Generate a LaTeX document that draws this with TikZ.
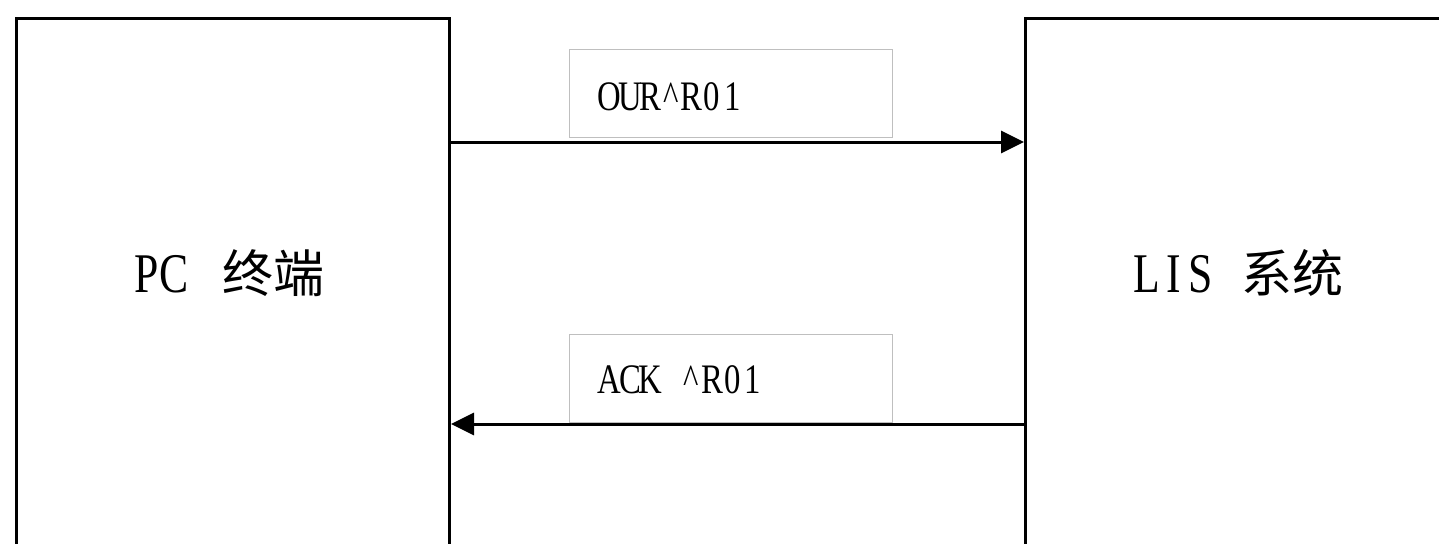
\documentclass[tikz,border=0pt]{standalone}
\usepackage{fontspec}
\setmainfont{Liberation Serif}
\newfontfamily\latfont[FakeStretch=0.78]{Liberation Serif}
\newfontfamily\cjkfont{Noto Sans CJK SC}
\usetikzlibrary{arrows.meta,calc}
% half-width cells, as in the reference's monospaced Latin
\newcommand\cellA[1]{\makebox[13.5pt]{#1}}
\newcommand\cellB[1]{\makebox[10.25pt]{#1}}
\tikzset{
  sysbox/.style={draw=black, line width=1.5pt, minimum width=433*0.5pt, minimum height=583*0.5pt, inner sep=0pt},
  systext/.style={inner sep=0pt, font=\fontsize{28}{30}\selectfont},
  labbox/.style={draw=black!25, line width=0.6pt, minimum width=323*0.5pt, minimum height=88*0.5pt, inner sep=0pt, anchor=north west},
  labtext/.style={inner sep=0pt, anchor=base west, font=\latfont\fontsize{21}{23}\selectfont},
  msg/.style={line width=1.5pt, -{Triangle[length=11.5pt,width=11pt]}}
}
\begin{document}
\begin{tikzpicture}[x=0.5pt,y=-0.5pt]
\useasboundingbox (0,0) rectangle (1439,543);
\clip (0,0) rectangle (1439,543);
\fill[white] (0,0) rectangle (1439,543);
% system boxes (extend past the bottom edge)
\node[sysbox, anchor=north west] (pc) at (15,17) {};
\node[sysbox, anchor=north west] (lis) at (1024,17) {};
\node[systext, anchor=base west] (pct) at (133,292) {\latfont\cellA{P}\cellA{C}\cellA{ }\hspace{4pt}{\cjkfont\fontsize{25.5}{28}\selectfont 终端}};
\node[systext, anchor=base west] (list) at (1133,292) {\latfont\cellA{L}\cellA{I}\cellA{S}\cellA{ }{\cjkfont\fontsize{25.5}{28}\selectfont 系统}};
% message labels
\node[labbox] (l1) at (569,49) {};
\node[labtext] (t1) at (599,110) {\cellB{O}\cellB{U}\cellB{R}\cellB{\textasciicircum}\cellB{R}\cellB{0}\cellB{1}};
\node[labbox] (l2) at (569,334) {};
\node[labtext] (t2) at (599,393) {\cellB{A}\cellB{C}\cellB{K}\cellB{ }\cellB{\textasciicircum}\cellB{R}\cellB{0}\cellB{1}};
% messages
\draw[msg] ($(pc.north east)+(0,125)$) -- ($(lis.north west)+(0,125)$);
\draw[msg] ($(lis.north west)+(0,407)$) -- ($(pc.north east)+(0,407)$);
\end{tikzpicture}
\end{document}
